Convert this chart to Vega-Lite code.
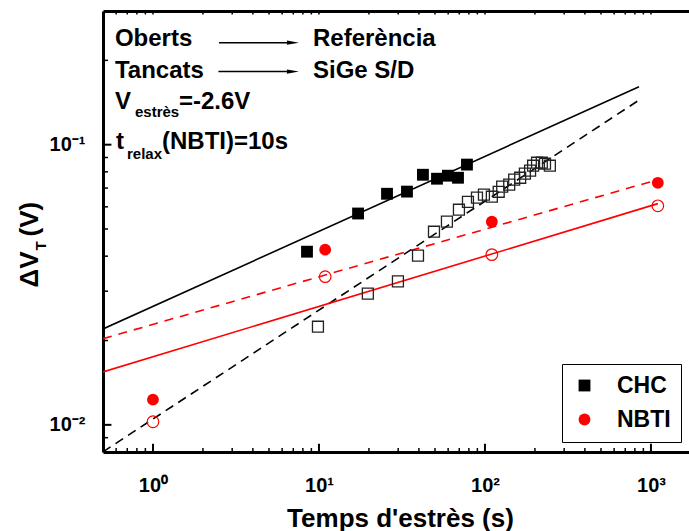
{
  "$schema": "https://vega.github.io/schema/vega-lite/v6.json",
  "width": 586,
  "height": 441,
  "autosize": "none",
  "padding": {"left": 103, "top": 11, "right": 0, "bottom": 79},
  "background": "white",
  "datasets": {
    "pts": [
      {"series": "CHC", "cond": "Oberts", "t": 8.47, "dv": 0.0415},
      {"series": "CHC", "cond": "Oberts", "t": 17.2, "dv": 0.0568},
      {"series": "CHC", "cond": "Oberts", "t": 25.7, "dv": 0.0668},
      {"series": "CHC", "cond": "Oberts", "t": 33.9, "dv": 0.068},
      {"series": "CHC", "cond": "Oberts", "t": 42.3, "dv": 0.0781},
      {"series": "CHC", "cond": "Oberts", "t": 51.4, "dv": 0.0756},
      {"series": "CHC", "cond": "Oberts", "t": 59.8, "dv": 0.0775},
      {"series": "CHC", "cond": "Oberts", "t": 68.8, "dv": 0.0762},
      {"series": "CHC", "cond": "Oberts", "t": 77.9, "dv": 0.0849},
      {"series": "CHC", "cond": "Tancats", "t": 9.86, "dv": 0.0224},
      {"series": "CHC", "cond": "Tancats", "t": 19.7, "dv": 0.0294},
      {"series": "CHC", "cond": "Tancats", "t": 29.9, "dv": 0.0325},
      {"series": "CHC", "cond": "Tancats", "t": 39.5, "dv": 0.0402},
      {"series": "CHC", "cond": "Tancats", "t": 49.3, "dv": 0.0489},
      {"series": "CHC", "cond": "Tancats", "t": 59.0, "dv": 0.0531},
      {"series": "CHC", "cond": "Tancats", "t": 69.7, "dv": 0.0586},
      {"series": "CHC", "cond": "Tancats", "t": 79.0, "dv": 0.0625},
      {"series": "CHC", "cond": "Tancats", "t": 89.5, "dv": 0.0647},
      {"series": "CHC", "cond": "Tancats", "t": 98.6, "dv": 0.0663},
      {"series": "CHC", "cond": "Tancats", "t": 110, "dv": 0.0652},
      {"series": "CHC", "cond": "Tancats", "t": 121, "dv": 0.0679},
      {"series": "CHC", "cond": "Tancats", "t": 127, "dv": 0.0708},
      {"series": "CHC", "cond": "Tancats", "t": 140, "dv": 0.072},
      {"series": "CHC", "cond": "Tancats", "t": 150, "dv": 0.075},
      {"series": "CHC", "cond": "Tancats", "t": 163, "dv": 0.0762},
      {"series": "CHC", "cond": "Tancats", "t": 174, "dv": 0.0788},
      {"series": "CHC", "cond": "Tancats", "t": 187, "dv": 0.0808},
      {"series": "CHC", "cond": "Tancats", "t": 195, "dv": 0.0841},
      {"series": "CHC", "cond": "Tancats", "t": 206, "dv": 0.0862},
      {"series": "CHC", "cond": "Tancats", "t": 220, "dv": 0.0862},
      {"series": "CHC", "cond": "Tancats", "t": 230, "dv": 0.0855},
      {"series": "CHC", "cond": "Tancats", "t": 246, "dv": 0.0841},
      {"series": "NBTI", "cond": "Oberts", "t": 1, "dv": 0.0123},
      {"series": "NBTI", "cond": "Oberts", "t": 10.9, "dv": 0.0422},
      {"series": "NBTI", "cond": "Oberts", "t": 110, "dv": 0.0531},
      {"series": "NBTI", "cond": "Oberts", "t": 1100, "dv": 0.0731},
      {"series": "NBTI", "cond": "Tancats", "t": 1, "dv": 0.01026},
      {"series": "NBTI", "cond": "Tancats", "t": 10.9, "dv": 0.0338},
      {"series": "NBTI", "cond": "Tancats", "t": 110, "dv": 0.0405},
      {"series": "NBTI", "cond": "Tancats", "t": 1100, "dv": 0.0605}
    ],
    "fits": [
      {"series": "CHC", "cond": "Oberts", "t": 0.5, "dv": 0.022},
      {"series": "CHC", "cond": "Oberts", "t": 847, "dv": 0.161},
      {"series": "CHC", "cond": "Tancats", "t": 0.5, "dv": 0.00801},
      {"series": "CHC", "cond": "Tancats", "t": 859, "dv": 0.145},
      {"series": "NBTI", "cond": "Oberts", "t": 0.5, "dv": 0.0203},
      {"series": "NBTI", "cond": "Oberts", "t": 1100, "dv": 0.075},
      {"series": "NBTI", "cond": "Tancats", "t": 0.5, "dv": 0.01545},
      {"series": "NBTI", "cond": "Tancats", "t": 1100, "dv": 0.0616}
    ],
    "notes": [
      {"txt": "Oberts", "kind": "main", "t": 0.59, "dv": 0.2258},
      {"txt": "Referència", "kind": "main", "t": 9.2, "dv": 0.2258},
      {"txt": "Tancats", "kind": "main", "t": 0.59, "dv": 0.1735},
      {"txt": "SiGe S/D", "kind": "main", "t": 9.2, "dv": 0.1735},
      {"txt": "V", "kind": "main", "t": 0.59, "dv": 0.1345},
      {"txt": "estrès", "kind": "sub", "t": 0.779, "dv": 0.1259},
      {"txt": "=-2.6V", "kind": "main", "t": 1.434, "dv": 0.1345},
      {"txt": "t", "kind": "main", "t": 0.599, "dv": 0.0968},
      {"txt": "relax", "kind": "sub", "t": 0.697, "dv": 0.0891},
      {"txt": "(NBTI)=10s", "kind": "main", "t": 1.133, "dv": 0.0968}
    ],
    "arrows": [
      {"from": 2.5, "to": 6.69, "head": 6.97, "dv": 0.2313},
      {"from": 2.48, "to": 6.69, "head": 6.97, "dv": 0.1823}
    ],
    "xticks": [
      {"t": 0.6, "kind": "minor"}, {"t": 0.7, "kind": "minor"}, {"t": 0.8, "kind": "minor"}, {"t": 0.9, "kind": "minor"},
      {"t": 1, "kind": "major"},
      {"t": 2, "kind": "minor"}, {"t": 3, "kind": "minor"}, {"t": 4, "kind": "minor"}, {"t": 5, "kind": "minor"},
      {"t": 6, "kind": "minor"}, {"t": 7, "kind": "minor"}, {"t": 8, "kind": "minor"}, {"t": 9, "kind": "minor"},
      {"t": 10, "kind": "major"},
      {"t": 20, "kind": "minor"}, {"t": 30, "kind": "minor"}, {"t": 40, "kind": "minor"}, {"t": 50, "kind": "minor"},
      {"t": 60, "kind": "minor"}, {"t": 70, "kind": "minor"}, {"t": 80, "kind": "minor"}, {"t": 90, "kind": "minor"},
      {"t": 100, "kind": "major"},
      {"t": 200, "kind": "minor"}, {"t": 300, "kind": "minor"}, {"t": 400, "kind": "minor"}, {"t": 500, "kind": "minor"},
      {"t": 600, "kind": "minor"}, {"t": 700, "kind": "minor"}, {"t": 800, "kind": "minor"}, {"t": 900, "kind": "minor"},
      {"t": 1000, "kind": "major"}
    ],
    "yticks": [
      {"dv": 0.009, "kind": "minor"},
      {"dv": 0.01, "kind": "major"},
      {"dv": 0.02, "kind": "minor"}, {"dv": 0.03, "kind": "minor"}, {"dv": 0.04, "kind": "minor"}, {"dv": 0.05, "kind": "minor"},
      {"dv": 0.06, "kind": "minor"}, {"dv": 0.07, "kind": "minor"}, {"dv": 0.08, "kind": "minor"}, {"dv": 0.09, "kind": "minor"},
      {"dv": 0.1, "kind": "major"},
      {"dv": 0.2, "kind": "minor"}
    ]
  },
  "layer": [
    {
      "data": {"name": "fits"},
      "transform": [{"filter": "datum.series === 'CHC' && datum.cond === 'Oberts'"}],
      "mark": {"type": "line", "color": "black", "strokeWidth": 1.6, "clip": true},
      "encoding": {
        "x": {"field": "t", "type": "quantitative",
              "scale": {"type": "log", "domain": [0.5, 1695], "nice": false},
              "axis": {"orient": "bottom", "values": [1, 10, 100, 1000], "ticks": false, "domain": true,
                       "labelExpr": "'10' + (datum.value == 1 ? '⁰' : datum.value == 10 ? '¹' : datum.value == 100 ? '²' : '³')",
                       "labelFontSize": 20, "labelBaseline": "alphabetic", "labelPadding": 39,
                       "title": "Temps d'estrès (s)", "titleFontSize": 26, "titleX": 297, "titleY": 74,
                       "titleAlign": "center", "titleBaseline": "alphabetic"}},
        "y": {"field": "dv", "type": "quantitative",
              "scale": {"type": "log", "domain": [0.008, 0.3], "nice": false},
              "axis": {"orient": "left", "values": [0.01, 0.1], "ticks": false, "domain": true,
                       "labelExpr": "'10' + (datum.value < 0.05 ? '⁻²' : '⁻¹')",
                       "labelFontSize": 20, "labelAlign": "right", "labelBaseline": "middle", "labelPadding": 18,
                       "title": "ΔV", "titleFontSize": 26, "titleAngle": 270, "titleAlign": "left",
                       "titleBaseline": "alphabetic", "titleX": -66, "titleY": 276}}
      }
    },
    {
      "data": {"name": "fits"},
      "transform": [{"filter": "datum.series === 'CHC' && datum.cond === 'Tancats'"}],
      "mark": {"type": "line", "color": "black", "strokeWidth": 1.6, "strokeDash": [9, 6], "clip": true},
      "encoding": {
        "x": {"field": "t", "type": "quantitative",
              "axis": {"orient": "top", "ticks": false, "labels": false, "domain": true, "title": null}},
        "y": {"field": "dv", "type": "quantitative",
              "axis": {"orient": "left", "ticks": false, "labels": false, "domain": false,
                       "title": "T", "titleFontSize": 15, "titleAngle": 270, "titleAlign": "left",
                       "titleBaseline": "alphabetic", "titleX": -58, "titleY": 239}}
      }
    },
    {
      "data": {"name": "fits"},
      "transform": [{"filter": "datum.series === 'NBTI' && datum.cond === 'Oberts'"}],
      "mark": {"type": "line", "color": "#ff0000", "strokeWidth": 1.6, "strokeDash": [9, 7], "clip": true},
      "encoding": {
        "x": {"field": "t", "type": "quantitative", "axis": null},
        "y": {"field": "dv", "type": "quantitative",
              "axis": {"orient": "left", "ticks": false, "labels": false, "domain": false,
                       "title": "(V)", "titleFontSize": 26, "titleAngle": 270, "titleAlign": "left",
                       "titleBaseline": "alphabetic", "titleX": -66, "titleY": 225}}
      }
    },
    {
      "data": {"name": "fits"},
      "transform": [{"filter": "datum.series === 'NBTI' && datum.cond === 'Tancats'"}],
      "mark": {"type": "line", "color": "#ff0000", "strokeWidth": 1.6, "clip": true},
      "encoding": {
        "x": {"field": "t", "type": "quantitative", "axis": null},
        "y": {"field": "dv", "type": "quantitative", "axis": null}
      }
    },
    {
      "data": {"name": "xticks"},
      "transform": [{"filter": "datum.kind === 'major'"}],
      "mark": {"type": "rule", "color": "black", "strokeWidth": 2},
      "encoding": {
        "x": {"field": "t", "type": "quantitative", "axis": null},
        "y": {"datum": 0.008, "type": "quantitative", "axis": null},
        "y2": {"datum": 0.00856}
      }
    },
    {
      "data": {"name": "xticks"},
      "transform": [{"filter": "datum.kind === 'minor'"}],
      "mark": {"type": "rule", "color": "black", "strokeWidth": 1.5},
      "encoding": {
        "x": {"field": "t", "type": "quantitative", "axis": null},
        "y": {"datum": 0.008, "type": "quantitative", "axis": null},
        "y2": {"datum": 0.00827}
      }
    },
    {
      "data": {"name": "xticks"},
      "mark": {"type": "rule", "color": "black", "strokeWidth": 1.5},
      "encoding": {
        "x": {"field": "t", "type": "quantitative", "axis": null},
        "y": {"datum": 0.3, "type": "quantitative", "axis": null},
        "y2": {"datum": 0.2915}
      }
    },
    {
      "data": {"name": "yticks"},
      "transform": [{"filter": "datum.kind === 'major'"}],
      "mark": {"type": "rule", "color": "black", "strokeWidth": 2},
      "encoding": {
        "y": {"field": "dv", "type": "quantitative", "axis": null},
        "x": {"datum": 0.5, "type": "quantitative", "axis": null},
        "x2": {"datum": 0.562}
      }
    },
    {
      "data": {"name": "yticks"},
      "transform": [{"filter": "datum.kind === 'minor'"}],
      "mark": {"type": "rule", "color": "black", "strokeWidth": 1.5},
      "encoding": {
        "y": {"field": "dv", "type": "quantitative", "axis": null},
        "x": {"datum": 0.5, "type": "quantitative", "axis": null},
        "x2": {"datum": 0.536}
      }
    },
    {
      "data": {"name": "pts"},
      "transform": [{"filter": "datum.cond === 'Oberts'"}],
      "mark": {"type": "point", "filled": true, "opacity": 1, "size": 140},
      "encoding": {
        "x": {"field": "t", "type": "quantitative", "axis": null},
        "y": {"field": "dv", "type": "quantitative", "axis": null},
        "shape": {"field": "series", "type": "nominal",
                  "scale": {"domain": ["CHC", "NBTI"], "range": ["square", "circle"]},
                  "legend": {"orient": "none", "legendX": 459, "legendY": 353, "title": null,
                             "strokeColor": "black", "fillColor": "white",
                             "padding": 10, "rowPadding": 10, "symbolOffset": 1, "labelOffset": 21,
                             "labelFont": "Liberation Sans", "labelFontWeight": "bold", "labelFontSize": 23,
                             "labelColor": "black", "symbolSize": 140}},
        "color": {"field": "series", "type": "nominal",
                  "scale": {"domain": ["CHC", "NBTI"], "range": ["black", "#ff0000"]},
                  "legend": {"orient": "none", "legendX": 459, "legendY": 353, "title": null,
                             "strokeColor": "black", "fillColor": "white",
                             "padding": 10, "rowPadding": 10, "symbolOffset": 1, "labelOffset": 21,
                             "labelFont": "Liberation Sans", "labelFontWeight": "bold", "labelFontSize": 23,
                             "labelColor": "black", "symbolSize": 140}}
      }
    },
    {
      "data": {"name": "pts"},
      "transform": [{"filter": "datum.cond === 'Tancats' && datum.series === 'CHC'"}],
      "mark": {"type": "point", "shape": "square", "filled": false, "color": "#222222", "strokeWidth": 1.3, "size": 120, "opacity": 1},
      "encoding": {
        "x": {"field": "t", "type": "quantitative", "axis": null},
        "y": {"field": "dv", "type": "quantitative", "axis": null}
      }
    },
    {
      "data": {"name": "pts"},
      "transform": [{"filter": "datum.cond === 'Tancats' && datum.series === 'NBTI'"}],
      "mark": {"type": "point", "shape": "circle", "filled": false, "color": "#ff0000", "strokeWidth": 1.2, "size": 135, "opacity": 1},
      "encoding": {
        "x": {"field": "t", "type": "quantitative", "axis": null},
        "y": {"field": "dv", "type": "quantitative", "axis": null}
      }
    },
    {
      "data": {"name": "notes"},
      "transform": [{"filter": "datum.kind === 'main'"}],
      "mark": {"type": "text", "align": "left", "baseline": "alphabetic", "font": "Liberation Sans", "fontWeight": "bold", "fontSize": 24, "color": "black"},
      "encoding": {
        "x": {"field": "t", "type": "quantitative", "axis": null},
        "y": {"field": "dv", "type": "quantitative", "axis": null},
        "text": {"field": "txt"}
      }
    },
    {
      "data": {"name": "notes"},
      "transform": [{"filter": "datum.kind === 'sub'"}],
      "mark": {"type": "text", "align": "left", "baseline": "alphabetic", "font": "Liberation Sans", "fontWeight": "bold", "fontSize": 15, "color": "black"},
      "encoding": {
        "x": {"field": "t", "type": "quantitative", "axis": null},
        "y": {"field": "dv", "type": "quantitative", "axis": null},
        "text": {"field": "txt"}
      }
    },
    {
      "data": {"name": "arrows"},
      "mark": {"type": "rule", "color": "black", "strokeWidth": 1.5},
      "encoding": {
        "x": {"field": "from", "type": "quantitative", "axis": null},
        "x2": {"field": "to"},
        "y": {"field": "dv", "type": "quantitative", "axis": null}
      }
    },
    {
      "data": {"name": "arrows"},
      "mark": {"type": "point", "shape": "M -1 -0.35 L 1 0 L -1 0.35 Z", "filled": true, "color": "black", "size": 144, "opacity": 1},
      "encoding": {
        "x": {"field": "head", "type": "quantitative", "axis": null},
        "y": {"field": "dv", "type": "quantitative", "axis": null}
      }
    }
  ],
  "resolve": {"axis": {"x": "independent", "y": "independent"}},
  "config": {
    "view": {"stroke": null},
    "font": "Liberation Sans",
    "legend": {"strokeWidth": 1},
    "axis": {
      "grid": false,
      "domainColor": "black",
      "domainWidth": 3,
      "tickColor": "black",
      "tickWidth": 2,
      "labelFont": "Liberation Sans",
      "labelFontWeight": "bold",
      "labelColor": "black",
      "titleFont": "Liberation Sans",
      "titleFontWeight": "bold",
      "titleColor": "black"
    }
  }
}
